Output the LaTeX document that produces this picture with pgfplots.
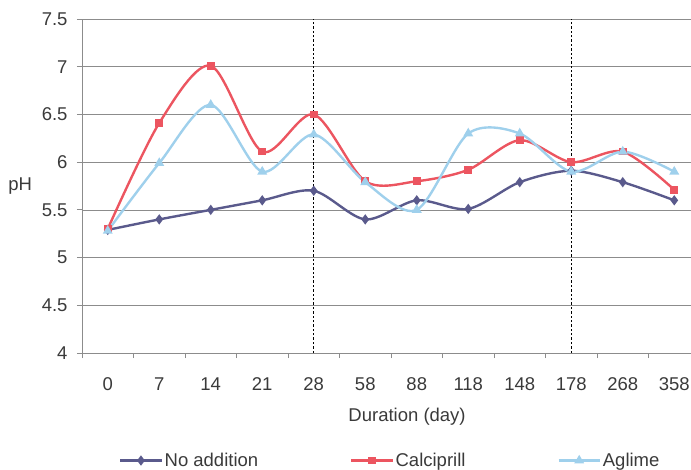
\documentclass[border=0pt]{standalone}
\usepackage{fontspec}
\setmainfont{Liberation Sans}
\usepackage{pgfplots}
\pgfplotsset{compat=1.18}

\definecolor{noadd}{HTML}{5A5A8C}
\definecolor{calci}{HTML}{EC5560}
\definecolor{aglime}{HTML}{9FD0EC}
\definecolor{axisgray}{HTML}{8C8C8C}
\definecolor{txt}{HTML}{3A3A3A}

\begin{document}
\begin{tikzpicture}
\useasboundingbox (-82bp,-117bp) rectangle (609bp,353bp);
\begin{axis}[
    at={(0,0)}, anchor=south west,
    scale only axis,
    width=618bp, height=334bp,
    xmin=-0.5, xmax=11.5,
    ymin=4, ymax=7.5,
    axis x line*=bottom, axis y line*=left,
    axis line style={-, draw=axisgray, line width=0.8pt},
    tick align=outside,
    major tick length=5bp,
    tick style={draw=axisgray, line width=0.8pt},
    % boundary ticks between the categories, labels at the centres
    xtick={-0.5,0.5,...,10.5},
    xticklabels={},
    extra x ticks={0,1,...,11},
    extra x tick labels={0,7,14,21,28,58,88,118,148,178,268,358},
    extra x tick style={major tick length=0pt},
    ytick={4,4.5,...,7.5},
    ymajorgrids,
    grid style={draw=axisgray, line width=0.7pt},
    /pgf/number format/assume math mode=true,
    tick label style={font=\fontsize{18.5bp}{21bp}\selectfont, text=txt},
    xticklabel style={yshift=-21bp},
    yticklabel style={xshift=-6bp},
    xlabel={Duration (day)},
    xlabel style={at={(axis description cs:0.526,-0.19)}, anchor=center,
        font=\fontsize{18.5bp}{21bp}\selectfont, text=txt},
    ylabel={pH},
    ylabel style={rotate=-90, at={(axis description cs:-0.1,0.5)}, anchor=center,
        font=\fontsize{18.5bp}{21bp}\selectfont, text=txt},
    legend columns=3,
    legend style={at={(axis description cs:0.06,-0.322)}, anchor=west,
        draw=none, fill=none, inner sep=0pt,
        font=\fontsize{18.5bp}{21bp}\selectfont, text=txt,
        /tikz/every odd column/.append style={column sep=0bp},
        /tikz/every even column/.append style={column sep=90bp}},
    legend image code/.code={
        \draw[mark repeat=2,mark phase=2]
        plot coordinates {(0bp,0bp) (20.5bp,0bp) (41bp,0bp)};},
    every axis plot/.append style={line width=2.4pt, smooth},
]

\addplot[noadd, mark=diamond*, mark size=3.2bp, mark options={solid}] coordinates {
    (0,5.29) (1,5.40) (2,5.50) (3,5.60) (4,5.70) (5,5.40)
    (6,5.60) (7,5.51) (8,5.79) (9,5.91) (10,5.79) (11,5.60)
};
\addlegendentry{No addition}

\addplot[calci, mark=square*, mark size=2.6bp] coordinates {
    (0,5.30) (1,6.41) (2,7.01) (3,6.11) (4,6.50) (5,5.80)
    (6,5.80) (7,5.92) (8,6.23) (9,6.00) (10,6.11) (11,5.71)
};
\addlegendentry{Calciprill}

\addplot[aglime, mark=triangle*, mark size=3.4bp] coordinates {
    (0,5.28) (1,5.99) (2,6.60) (3,5.90) (4,6.29) (5,5.79)
    (6,5.50) (7,6.30) (8,6.30) (9,5.90) (10,6.11) (11,5.90)
};
\addlegendentry{Aglime}

% dotted separators at day 28 and day 178
\addplot[black, dotted, line width=1pt, no marks, sharp plot, forget plot]
    coordinates {(4,4) (4,7.5)};
\addplot[black, dotted, line width=1pt, no marks, sharp plot, forget plot]
    coordinates {(9,4) (9,7.5)};
\end{axis}
\end{tikzpicture}
\end{document}
